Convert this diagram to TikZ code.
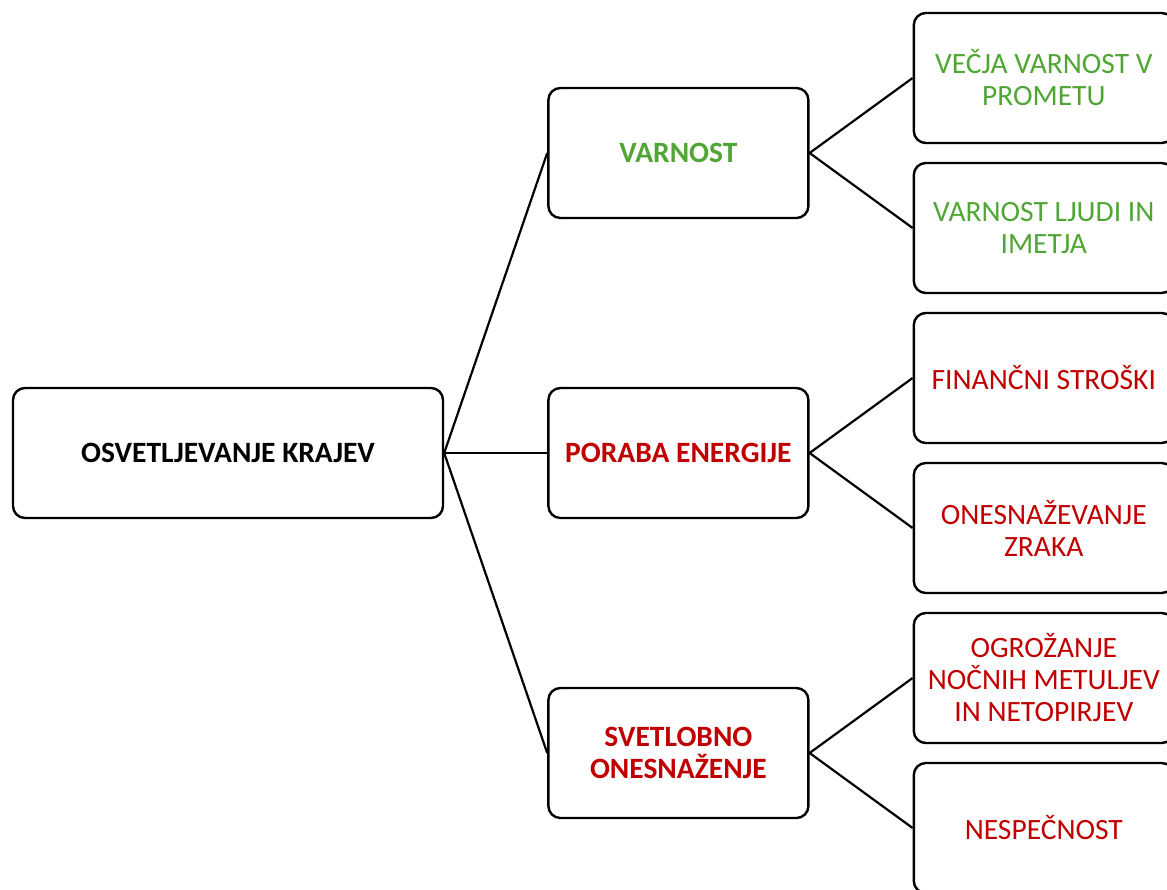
\documentclass[tikz,border=0pt]{standalone}
\usepackage{fontspec}
\setmainfont{Carlito}
\usetikzlibrary{positioning}

\definecolor{varngreen}{RGB}{80,166,52}
\definecolor{energred}{RGB}{192,0,0}

\tikzset{
  box/.style={draw, line width=2.4pt, rounded corners=12pt, minimum width=260pt,
    minimum height=130pt, align=center, font=\fontsize{29.5}{32}\selectfont},
  topic/.style={box, font=\fontsize{29.5}{32}\selectfont\bfseries},
  leaf/.style={box},
  link/.style={line width=2.2pt}
}

\begin{document}
\begin{tikzpicture}[x=1pt, y=-1pt]

  \useasboundingbox (0,0) rectangle (1167,889);
  \clip (0,0) rectangle (1167,889);

  % Define nodes
  \node[topic, minimum width=430pt] (root) at (228,453) {OSVETLJEVANJE KRAJEV};
  \node[topic, text=energred, right=103pt of root] (poraba) {PORABA ENERGIJE};
  \node[topic, text=varngreen, above=167.6pt of poraba] (varnost) {VARNOST};
  \node[topic, text=energred, below=167.6pt of poraba] (svetlo) {SVETLOBNO\\ONESNAŽENJE};

  \node[leaf, text=varngreen, right=103pt of varnost, yshift=75pt]  (promet) {VEČJA VARNOST V\\PROMETU};
  \node[leaf, text=varngreen, right=103pt of varnost, yshift=-75pt] (ljudi) {VARNOST LJUDI IN\\IMETJA};
  \node[leaf, text=energred, right=103pt of poraba, yshift=75pt]    (stroski) {FINANČNI STROŠKI};
  \node[leaf, text=energred, right=103pt of poraba, yshift=-75pt]   (zrak) {ONESNAŽEVANJE\\ZRAKA};
  \node[leaf, text=energred, right=103pt of svetlo, yshift=75pt]    (metulji) {OGROŽANJE\\NOČNIH METULJEV\\IN NETOPIRJEV};
  \node[leaf, text=energred, right=103pt of svetlo, yshift=-75pt]   (spanec) {NESPEČNOST};

  % Connect the nodes
  \draw[link] (root.east) -- (varnost.west);
  \draw[link] (root.east) -- (poraba.west);
  \draw[link] (root.east) -- (svetlo.west);
  \draw[link] (varnost.east) -- (promet.west);
  \draw[link] (varnost.east) -- (ljudi.west);
  \draw[link] (poraba.east) -- (stroski.west);
  \draw[link] (poraba.east) -- (zrak.west);
  \draw[link] (svetlo.east) -- (metulji.west);
  \draw[link] (svetlo.east) -- (spanec.west);

\end{tikzpicture}
\end{document}
